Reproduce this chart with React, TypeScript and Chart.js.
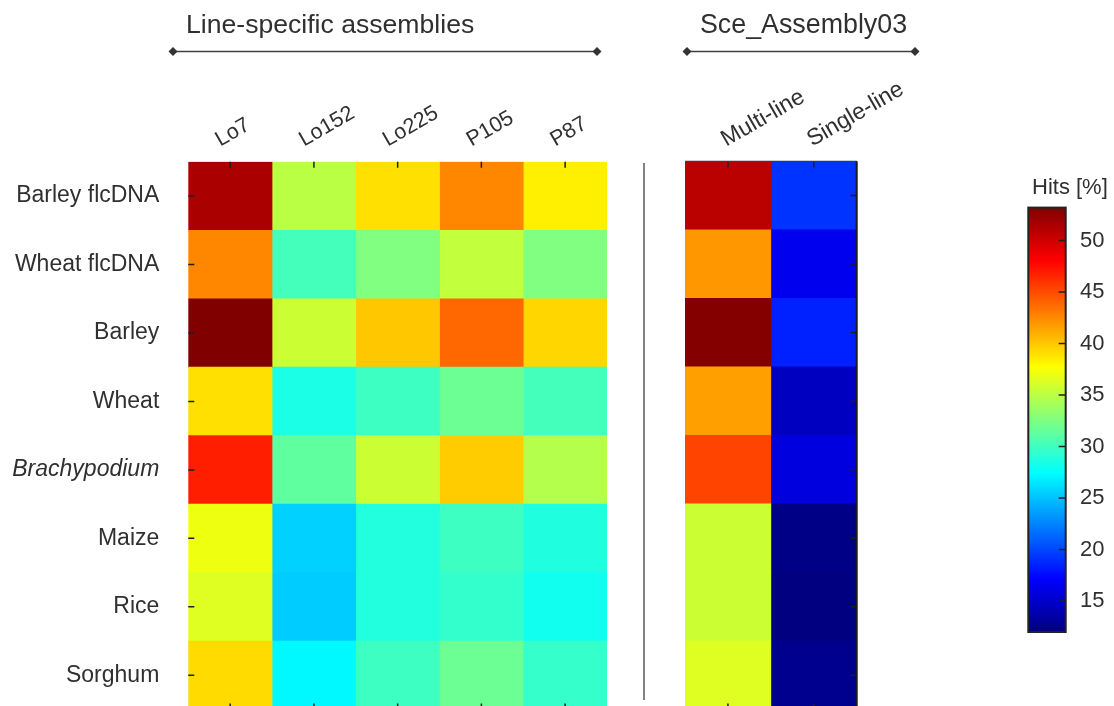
import React, { useEffect, useRef } from 'react';
import { Chart, registerables } from 'chart.js';

Chart.register(...registerables);

// ---------------- data ----------------
const rowLabels = ['Barley flcDNA', 'Wheat flcDNA', 'Barley', 'Wheat', 'Brachypodium', 'Maize', 'Rice', 'Sorghum'];
const lineCols = ['Lo7', 'Lo152', 'Lo225', 'P105', 'P87'];
const sceCols = ['Multi-line', 'Single-line'];

// Hits [%] per column, rows top -> bottom
const lo7 = [51.5, 42.6, 53.2, 39.0, 46.8, 37.1, 36.4, 39.2];
const lo152 = [35.0, 30.2, 35.7, 28.5, 31.3, 25.6, 25.4, 27.2];
const lo225 = [39.0, 32.6, 40.0, 29.9, 35.7, 28.8, 28.8, 29.9];
const p105 = [42.6, 35.3, 43.9, 31.8, 39.8, 29.9, 29.5, 31.8];
const p87 = [38.4, 32.6, 39.4, 30.2, 34.7, 28.7, 28.1, 29.6];
const multiLine = [50.8, 41.9, 53.0, 41.6, 45.3, 35.7, 35.7, 36.4];
const singleLine = [19.2, 16.5, 18.5, 14.6, 15.8, 12.3, 12.0, 12.6];

const colorMin = 12.0;
const colorMax = 53.2;
const colorTicks = [15, 20, 25, 30, 35, 40, 45, 50];

const lineValues = [lo7, lo152, lo225, p105, p87];
const sceValues = [multiLine, singleLine];

// ---------------- style ----------------
const FONT = "'Liberation Sans', Arial, Helvetica, sans-serif";
const TEXT = '#303030';
const TICK = '#1e1e1e';

function jet(v: number): string {
  const t = Math.min(1, Math.max(0, (v - colorMin) / (colorMax - colorMin)));
  const c = (x: number) => Math.round(255 * Math.min(1, Math.max(0, x)));
  return `rgb(${c(1.5 - Math.abs(4 * t - 3))},${c(1.5 - Math.abs(4 * t - 2))},${c(1.5 - Math.abs(4 * t - 1))})`;
}

function tickMarksPlugin(sides: { top?: boolean; bottom?: boolean; left?: boolean; right?: boolean; frame?: boolean }) {
  return {
    id: 'tickMarks',
    afterDatasetsDraw(chart: any) {
      const { ctx, chartArea: a, scales } = chart;
      const xs = scales.xTop;
      const ys = scales.y;
      const len = 6;
      ctx.save();
      ctx.strokeStyle = TICK;
      ctx.lineWidth = 1.5;
      ctx.beginPath();
      xs.ticks.forEach((_: any, i: number) => {
        const x = xs.getPixelForTick(i);
        if (sides.top) { ctx.moveTo(x, a.top); ctx.lineTo(x, a.top + len); }
        if (sides.bottom) { ctx.moveTo(x, a.bottom); ctx.lineTo(x, a.bottom - len); }
      });
      ys.ticks.forEach((_: any, i: number) => {
        const y = ys.getPixelForTick(i);
        if (sides.left) { ctx.moveTo(a.left, y); ctx.lineTo(a.left + len, y); }
        if (sides.right) { ctx.moveTo(a.right, y); ctx.lineTo(a.right - len, y); }
      });
      ctx.stroke();
      if (sides.frame) {
        ctx.beginPath();
        ctx.lineWidth = 1.2;
        ctx.strokeStyle = '#3a3a3a';
        ctx.moveTo(a.left, a.top);
        ctx.lineTo(a.right, a.top);
        ctx.stroke();
        ctx.beginPath();
        ctx.lineWidth = 2;
        ctx.strokeStyle = '#1a1a1a';
        ctx.moveTo(a.right, a.top);
        ctx.lineTo(a.right, a.bottom);
        ctx.stroke();
      }
      ctx.restore();
    },
  };
}

function heatmapConfig(
  cols: string[],
  values: number[][],
  o: {
    showY: boolean; padLeft: number; padRight: number; padBottom: number; yWidth: number; topHeight: number;
    labelOffset: number; labelPadding: number; labelSize: number; sides: any;
  }
): any {
  const datasets = cols.map((name, c) => ({
    label: name,
    data: rowLabels.map(() => [c, c + 1]),
    backgroundColor: values[c].map(jet),
    borderWidth: 0,
    barPercentage: 1,
    categoryPercentage: 1,
    grouped: false,
    xAxisID: 'x',
    yAxisID: 'y',
  }));
  return {
    type: 'bar',
    data: { labels: rowLabels, datasets },
    options: {
      indexAxis: 'y',
      responsive: false,
      animation: false,
      events: [],
      layout: { padding: { left: o.padLeft, top: 0, right: o.padRight, bottom: o.padBottom } },
      plugins: { legend: { display: false }, tooltip: { enabled: false }, title: { display: false } },
      scales: {
        x: { type: 'linear', min: 0, max: cols.length, display: false },
        xTop: {
          type: 'category',
          labels: cols,
          position: 'top',
          offset: true,
          grid: { display: false, drawTicks: false },
          border: { display: false },
          ticks: {
            autoSkip: false,
            minRotation: 30,
            maxRotation: 30,
            padding: o.labelPadding,
            labelOffset: o.labelOffset,
            color: TEXT,
            font: { family: FONT, size: o.labelSize },
          },
          afterFit: (s: any) => {
            s.height = o.topHeight;
            s.paddingLeft = 0;
            s.paddingRight = 0;
          },
        },
        y: {
          type: 'category',
          position: 'left',
          offset: true,
          display: o.showY,
          grid: { display: false, drawTicks: false },
          border: { display: false },
          ticks: {
            autoSkip: false,
            padding: 29,
            color: TEXT,
            font: (ctx: any) => ({ family: FONT, size: 23, style: ctx.index === 4 ? 'italic' : 'normal' }),
          },
          afterFit: (s: any) => {
            s.width = o.yWidth;
            s.paddingTop = 0;
            s.paddingBottom = 0;
          },
        },
      },
    },
    plugins: [tickMarksPlugin(o.sides)],
  };
}

function colorbarConfig(): any {
  const gradient = (ctx: any) => {
    const chart = ctx.chart;
    const ys = chart.scales && chart.scales.y;
    if (!chart.chartArea || !ys) return jet((colorMin + colorMax) / 2);
    const y0 = ys.getPixelForValue(colorMin);
    const y1 = ys.getPixelForValue(colorMax);
    const g = chart.ctx.createLinearGradient(0, y0, 0, y1);
    [0, 0.125, 0.375, 0.625, 0.875, 1].forEach((s) => g.addColorStop(s, jet(colorMin + s * (colorMax - colorMin))));
    return g;
  };
  return {
    type: 'bar',
    data: {
      labels: ['Hits'],
      datasets: [{ data: [[colorMin, colorMax]], backgroundColor: gradient, borderWidth: 0, barPercentage: 1, categoryPercentage: 1 }],
    },
    options: {
      responsive: false,
      animation: false,
      events: [],
      layout: { padding: { left: 28.3, top: 207.6, right: 0, bottom: 74 } },
      plugins: { legend: { display: false }, tooltip: { enabled: false } },
      scales: {
        x: { type: 'category', display: false },
        y: {
          type: 'linear',
          position: 'right',
          min: colorMin,
          max: colorMax,
          afterBuildTicks: (s: any) => { s.ticks = colorTicks.map((v) => ({ value: v })); },
          grid: { display: false, drawTicks: false },
          border: { display: false },
          ticks: { padding: 14.3, color: TEXT, font: { family: FONT, size: 22 } },
          afterFit: (s: any) => {
            s.width = 48.3;
            s.paddingTop = 0;
            s.paddingBottom = 0;
          },
        },
      },
    },
    plugins: [
      {
        id: 'cbFrame',
        afterDatasetsDraw(chart: any) {
          const { ctx, chartArea: a, scales } = chart;
          ctx.save();
          ctx.strokeStyle = TICK;
          ctx.lineWidth = 1.5;
          ctx.beginPath();
          colorTicks.forEach((v) => {
            const y = scales.y.getPixelForValue(v);
            ctx.moveTo(a.right, y);
            ctx.lineTo(a.right - 7, y);
          });
          ctx.stroke();
          ctx.lineWidth = 2;
          ctx.strokeStyle = '#222';
          ctx.strokeRect(a.left, a.top, a.right - a.left, a.bottom - a.top);
          ctx.restore();
        },
      },
    ],
  };
}

export default function App() {
  const leftRef = useRef<HTMLCanvasElement>(null);
  const rightRef = useRef<HTMLCanvasElement>(null);
  const cbRef = useRef<HTMLCanvasElement>(null);

  useEffect(() => {
    const charts: Chart[] = [];
    if (leftRef.current) {
      charts.push(
        new Chart(
          leftRef.current,
          heatmapConfig(lineCols, lineValues, {
            showY: true, padLeft: 0, padRight: 33, padBottom: 10.5, yWidth: 188.3, topHeight: 161.8,
            labelOffset: 0, labelPadding: 9, labelSize: 21.5, sides: { top: true, bottom: true, left: true },
          })
        )
      );
    }
    if (rightRef.current) {
      charts.push(
        new Chart(
          rightRef.current,
          heatmapConfig(sceCols, sceValues, {
            showY: false, padLeft: 35, padRight: 113.3, padBottom: 10.5, yWidth: 0, topHeight: 161.3,
            labelOffset: 9, labelPadding: 8, labelSize: 23, sides: { top: true, bottom: true, right: true, frame: true },
          })
        )
      );
    }
    if (cbRef.current) {
      charts.push(new Chart(cbRef.current, colorbarConfig()));
    }
    return () => charts.forEach((c) => c.destroy());
  }, []);

  const diamond = (x: number, y: number) => `${x - 4.5},${y} ${x},${y - 4.5} ${x + 4.5},${y} ${x},${y + 4.5}`;

  return (
    <div style={{ position: 'fixed', left: 0, top: 0, width: 1114, height: 706, overflow: 'hidden', background: '#fff' }}>
      <canvas ref={leftRef} width={640} height={720} style={{ position: 'absolute', left: 0, top: 0 }} />
      <canvas ref={rightRef} width={320} height={720} style={{ position: 'absolute', left: 650, top: 0 }} />
      <canvas ref={cbRef} width={114} height={706} style={{ position: 'absolute', left: 1000, top: 0 }} />
      <svg width={1114} height={706} style={{ position: 'absolute', left: 0, top: 0, pointerEvents: 'none' }}>
        <g fontFamily={FONT} fill={TEXT}>
          <text x={186} y={33} fontSize={26.6}>Line-specific assemblies</text>
          <text x={700} y={33} fontSize={26.8}>Sce_Assembly03</text>
          <text x={1032} y={194} fontSize={22}>Hits [%]</text>
        </g>
        <g stroke="#404040" strokeWidth={1.4}>
          <line x1={173} y1={51.5} x2={597} y2={51.5} />
          <line x1={687} y1={51.5} x2={915} y2={51.5} />
          <line x1={644} y1={163} x2={644} y2={700} stroke="#5a5a5a" strokeWidth={1.5} />
        </g>
        <g fill="#333">
          <polygon points={diamond(173, 51.5)} />
          <polygon points={diamond(597, 51.5)} />
          <polygon points={diamond(687, 51.5)} />
          <polygon points={diamond(915, 51.5)} />
        </g>
      </svg>
    </div>
  );
}
